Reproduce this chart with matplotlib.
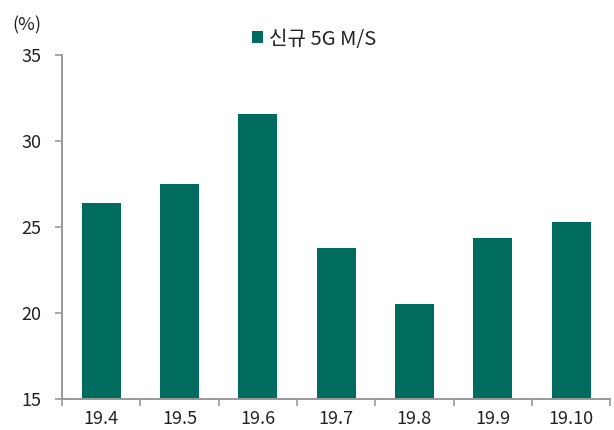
import matplotlib
matplotlib.use('Agg')
import matplotlib.pyplot as plt
import numpy as np

plt.rcParams['font.family'] = ['Noto Sans CJK KR', 'DejaVu Sans']

# data
months = ['19.4', '19.5', '19.6', '19.7', '19.8', '19.9', '19.10']
share = [26.4, 27.5, 31.6, 23.8, 20.5, 24.35, 25.3]
series_name = '신규 5G M/S'

bar_color = '#006B5F'
axis_color = '#999999'
text_color = '#222222'

fig = plt.figure(figsize=(6.14, 4.30), dpi=100)
ax = fig.add_axes([0.101, 0.072, 0.893, 0.8])

x = np.arange(len(months))
ax.bar(x, share, width=0.5, bottom=0, color=bar_color, label=series_name, zorder=2)

ax.set_ylim(15, 35)
ax.set_xlim(-0.5, len(months) - 0.5)
ax.set_yticks([15, 20, 25, 30, 35])

# tick marks between categories, labels at the centres
ax.set_xticks(np.arange(-0.5, len(months), 1.0))
ax.set_xticklabels([])
ax.set_xticks(x, minor=True)
ax.set_xticklabels(months, minor=True)
ax.tick_params(axis='x', which='major', length=5, width=1.2, color=axis_color, direction='out')
ax.tick_params(axis='x', which='minor', length=0, pad=8, labelsize=13, labelcolor=text_color)
ax.tick_params(axis='y', length=5, width=1.2, color=axis_color, direction='out', pad=10,
               labelsize=13, labelcolor=text_color)

for s in ['top', 'right']:
    ax.spines[s].set_visible(False)
for s in ['left', 'bottom']:
    ax.spines[s].set_color(axis_color)
    ax.spines[s].set_linewidth(1.4)

fig.text(0.02, 0.94, '(%)', fontsize=13, color=text_color, ha='left', va='center')

ax.legend(loc='lower center', bbox_to_anchor=(0.459, 0.975), frameon=False, fontsize=14.5,
          handlelength=0.55, handleheight=0.55, handletextpad=0.3, labelcolor=text_color,
          borderaxespad=0.3)

fig.savefig('out.png', dpi=100)
